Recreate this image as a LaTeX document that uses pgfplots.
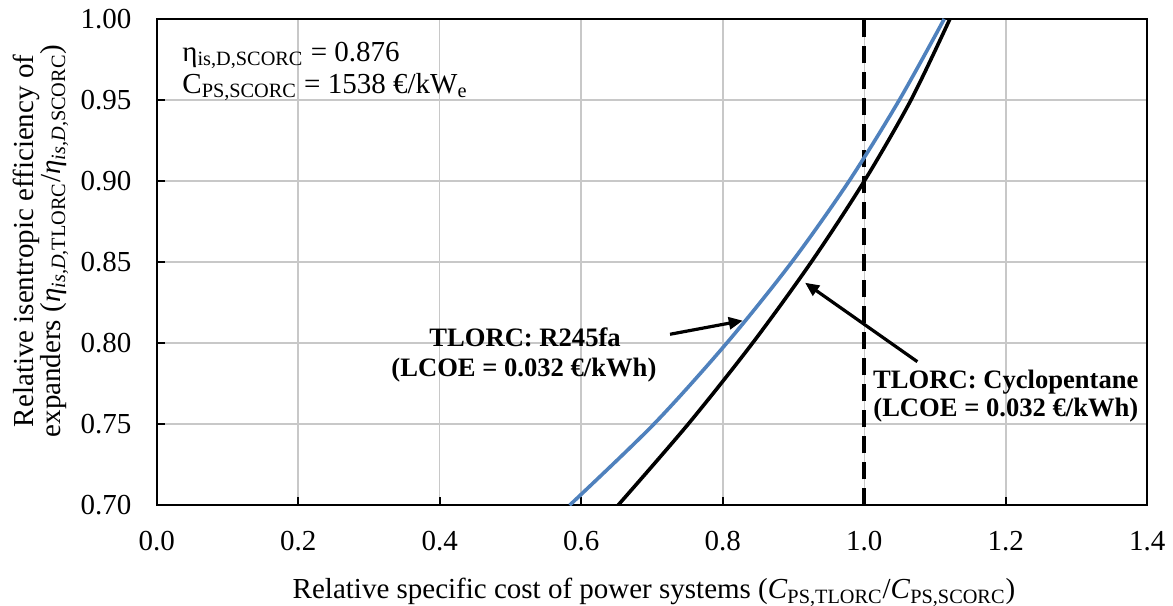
\documentclass[border=0pt]{standalone}
\usepackage{fontspec}
\setmainfont{Liberation Serif}
\usepackage{pgfplots}
\pgfplotsset{compat=1.18}
\usetikzlibrary{arrows.meta}
\definecolor{blueline}{RGB}{79,129,189}
\definecolor{gridgray}{RGB}{200,200,200}

\begin{document}
\begin{tikzpicture}
\begin{axis}[
  width=495.3pt, height=243.15pt, scale only axis,
  xmin=0, xmax=1.4, ymin=0.7, ymax=1.0,
  xtick={0,0.2,0.4,0.6,0.8,1.0,1.2,1.4},
  ytick={0.70,0.75,0.80,0.85,0.90,0.95,1.00},
  grid=major,
  major grid style={gridgray, line width=0.75pt},
  axis line style={black, line width=1pt},
  tick pos=left, tick align=inside, major tick length=4pt,
  every tick/.style={black, line width=1pt},
  /pgf/number format/assume math mode=true,
  xticklabel style={/pgf/number format/fixed, /pgf/number format/fixed zerofill, /pgf/number format/precision=1,
    inner sep=0pt, anchor=north, yshift=-13pt, font=\fontsize{14.5}{17}\selectfont},
  yticklabel style={/pgf/number format/fixed, /pgf/number format/fixed zerofill, /pgf/number format/precision=2,
    inner sep=0pt, anchor=east, xshift=-12.5pt, font=\fontsize{14.5}{17}\selectfont},
  xlabel={Relative specific cost of power systems (\textit{C}\textsubscript{PS,TLORC}/\textit{C}\textsubscript{PS,SCORC})},
  xlabel style={at={(axis description cs:0.502,-0.1495)}, anchor=north, inner sep=0pt, font=\fontsize{14.5}{17}\selectfont},
  ylabel={Relative isentropic efficiency of\\expanders (\textit{η}\textsubscript{\textit{is,D,}TLORC}/\textit{η}\textsubscript{\textit{is,D,}SCORC})},
  ylabel style={at={(axis description cs:-0.0888,0.5435)}, anchor=south, inner sep=0pt, align=center, font=\fontsize{14.5}{13.5}\selectfont},
]
\coordinate (bl) at (rel axis cs:0,0);
\coordinate (tr) at (rel axis cs:1,1);

% reference line
\addplot[black, line width=1.9pt, dash pattern=on 8.5pt off 4.5pt] coordinates {(1.0,0.70) (1.0,1.00)};

% TLORC: R245fa
\addplot[blueline, line width=1.8pt, smooth] coordinates {
(0.5835,0.70) (0.7025,0.75) (0.8055,0.80) (0.8975,0.85) (0.9785,0.90) (1.0495,0.95) (1.113,1.00)
};

% TLORC: Cyclopentane
\addplot[black, line width=1.8pt, smooth] coordinates {
(0.652,0.70) (0.751,0.75) (0.842,0.80) (0.925,0.85) (1.000,0.90) (1.066,0.95) (1.121,1.00)
};

\node[anchor=base west, inner sep=0pt, font=\fontsize{14.5}{16}\selectfont] at (axis cs:0.0358,0.974) {η\textsubscript{is,D,SCORC} = 0.876};
\node[anchor=base west, inner sep=0pt, font=\fontsize{14.5}{16}\selectfont] at (axis cs:0.0358,0.9543) {C\textsubscript{PS,SCORC} = 1538 €/kW\textsubscript{e}};

\node[anchor=base, inner sep=0pt, font=\fontsize{13.3}{15}\selectfont\bfseries] at (axis cs:0.5206,0.7978) {TLORC: R245fa};
\node[anchor=base, inner sep=0pt, font=\fontsize{13.3}{15}\selectfont\bfseries] at (axis cs:0.519,0.7793) {(LCOE = 0.032 €/kWh)};
\node[anchor=base, inner sep=0pt, font=\fontsize{13.3}{15}\selectfont\bfseries] at (axis cs:1.2001,0.7722) {TLORC: Cyclopentane};
\node[anchor=base, inner sep=0pt, font=\fontsize{13.3}{15}\selectfont\bfseries] at (axis cs:1.2001,0.7547) {(LCOE = 0.032 €/kWh)};

\draw[-{Triangle[length=7pt,width=6pt]}, line width=1.6pt, black] (axis cs:0.7255,0.8055) -- (axis cs:0.8283,0.8139);
\draw[-{Triangle[length=7pt,width=6pt]}, line width=1.6pt, black] (axis cs:1.075,0.7886) -- (axis cs:0.9163,0.8373);
\end{axis}
\pgfresetboundingbox
\path ([shift={(-78.35pt,-50.35pt)}]bl) rectangle ([shift={(12.85pt,9.5pt)}]tr);
\end{tikzpicture}
\end{document}
